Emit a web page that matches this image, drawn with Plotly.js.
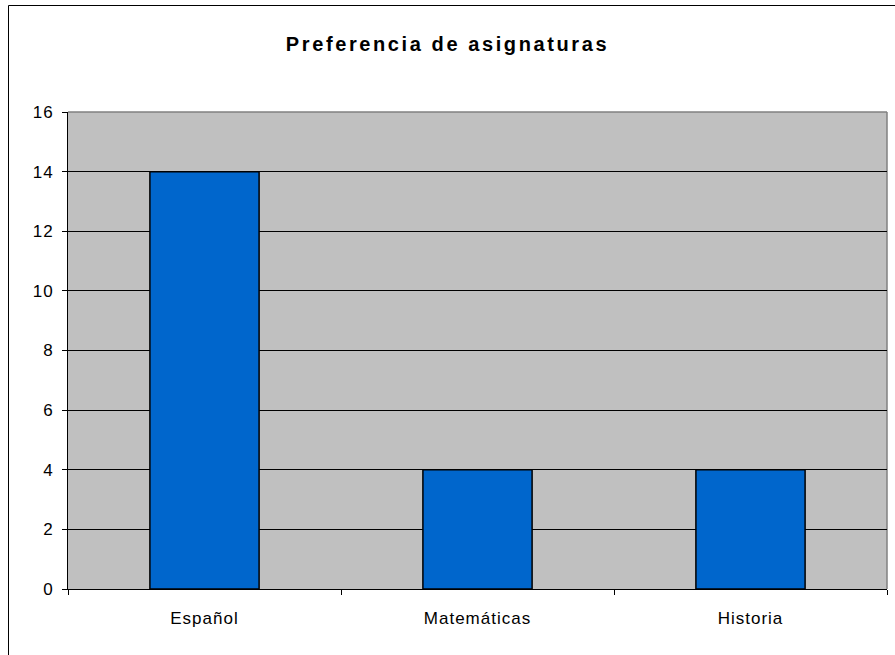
<!DOCTYPE html>
<html>
<head>
<meta charset="utf-8">
<script src="https://cdn.plot.ly/plotly-3.0.1.min.js"></script>
<style>
html, body { margin: 0; padding: 0; background: #fff; }
#chart { width: 895px; height: 655px; }
.gtitle { letter-spacing: 2.6px; }
.xtick text, .ytick text { letter-spacing: 1px; }
</style>
</head>
<body>
<div id="chart"></div>
<script>
const categories = ["Español", "Matemáticas", "Historia"];
const values = [14, 4, 4];
const yTicks = [0, 2, 4, 6, 8, 10, 12, 14, 16];
const chartTitle = "Preferencia de asignaturas";

const trace = {
  type: "bar",
  x: categories,
  y: values,
  marker: { color: "#0066CC", line: { color: "#000000", width: 1.5 } },
  hoverinfo: "x+y"
};

const layout = {
  width: 895,
  height: 655,
  margin: { l: 68, r: 8, t: 112, b: 66 },
  paper_bgcolor: "#ffffff",
  plot_bgcolor: "#C0C0C0",
  bargap: 0.6,
  showlegend: false,
  font: { family: "Liberation Sans, Arial, sans-serif", color: "#000", size: 17 },
  title: {
    text: "<b>" + chartTitle + "</b>",
    font: { family: "Liberation Sans, Arial, sans-serif", size: 20, color: "#000" },
    x: 0.5, xref: "container", xanchor: "center",
    y: 1 - 44 / 655, yref: "container", yanchor: "middle"
  },
  xaxis: {
    type: "category",
    showline: true, linecolor: "#000", linewidth: 1,
    ticks: "outside", tickson: "boundaries", ticklen: 5, tickcolor: "#000",
    showgrid: false,
    tickfont: { size: 17 },
    ticklabelstandoff: 14,
    fixedrange: true
  },
  yaxis: {
    range: [0, 16],
    tickvals: yTicks,
    ticktext: yTicks.map(String),
    showline: true, linecolor: "#000", linewidth: 1,
    ticks: "outside", ticklen: 5, tickcolor: "#000",
    showgrid: true, gridcolor: "#000", gridwidth: 1,
    zeroline: false,
    tickfont: { size: 17 },
    ticklabelstandoff: 5,
    fixedrange: true
  },
  shapes: [
    { type: "line", xref: "paper", yref: "paper", x0: 0, x1: 1, y0: 1, y1: 1,
      line: { color: "#808080", width: 1.5 }, layer: "above" },
    { type: "line", xref: "paper", yref: "paper", x0: 1, x1: 1, y0: 0, y1: 1,
      line: { color: "#808080", width: 1.5 }, layer: "below" },
    { type: "rect", xref: "paper", yref: "paper",
      x0: (8.5 - 68) / 819, x1: 1.05, y0: -0.2, y1: (589 - 5.5) / 477,
      line: { color: "#000", width: 1 }, fillcolor: "rgba(0,0,0,0)", layer: "above" }
  ]
};

Plotly.newPlot("chart", [trace], layout, { displayModeBar: false, staticPlot: true });
</script>
</body>
</html>
